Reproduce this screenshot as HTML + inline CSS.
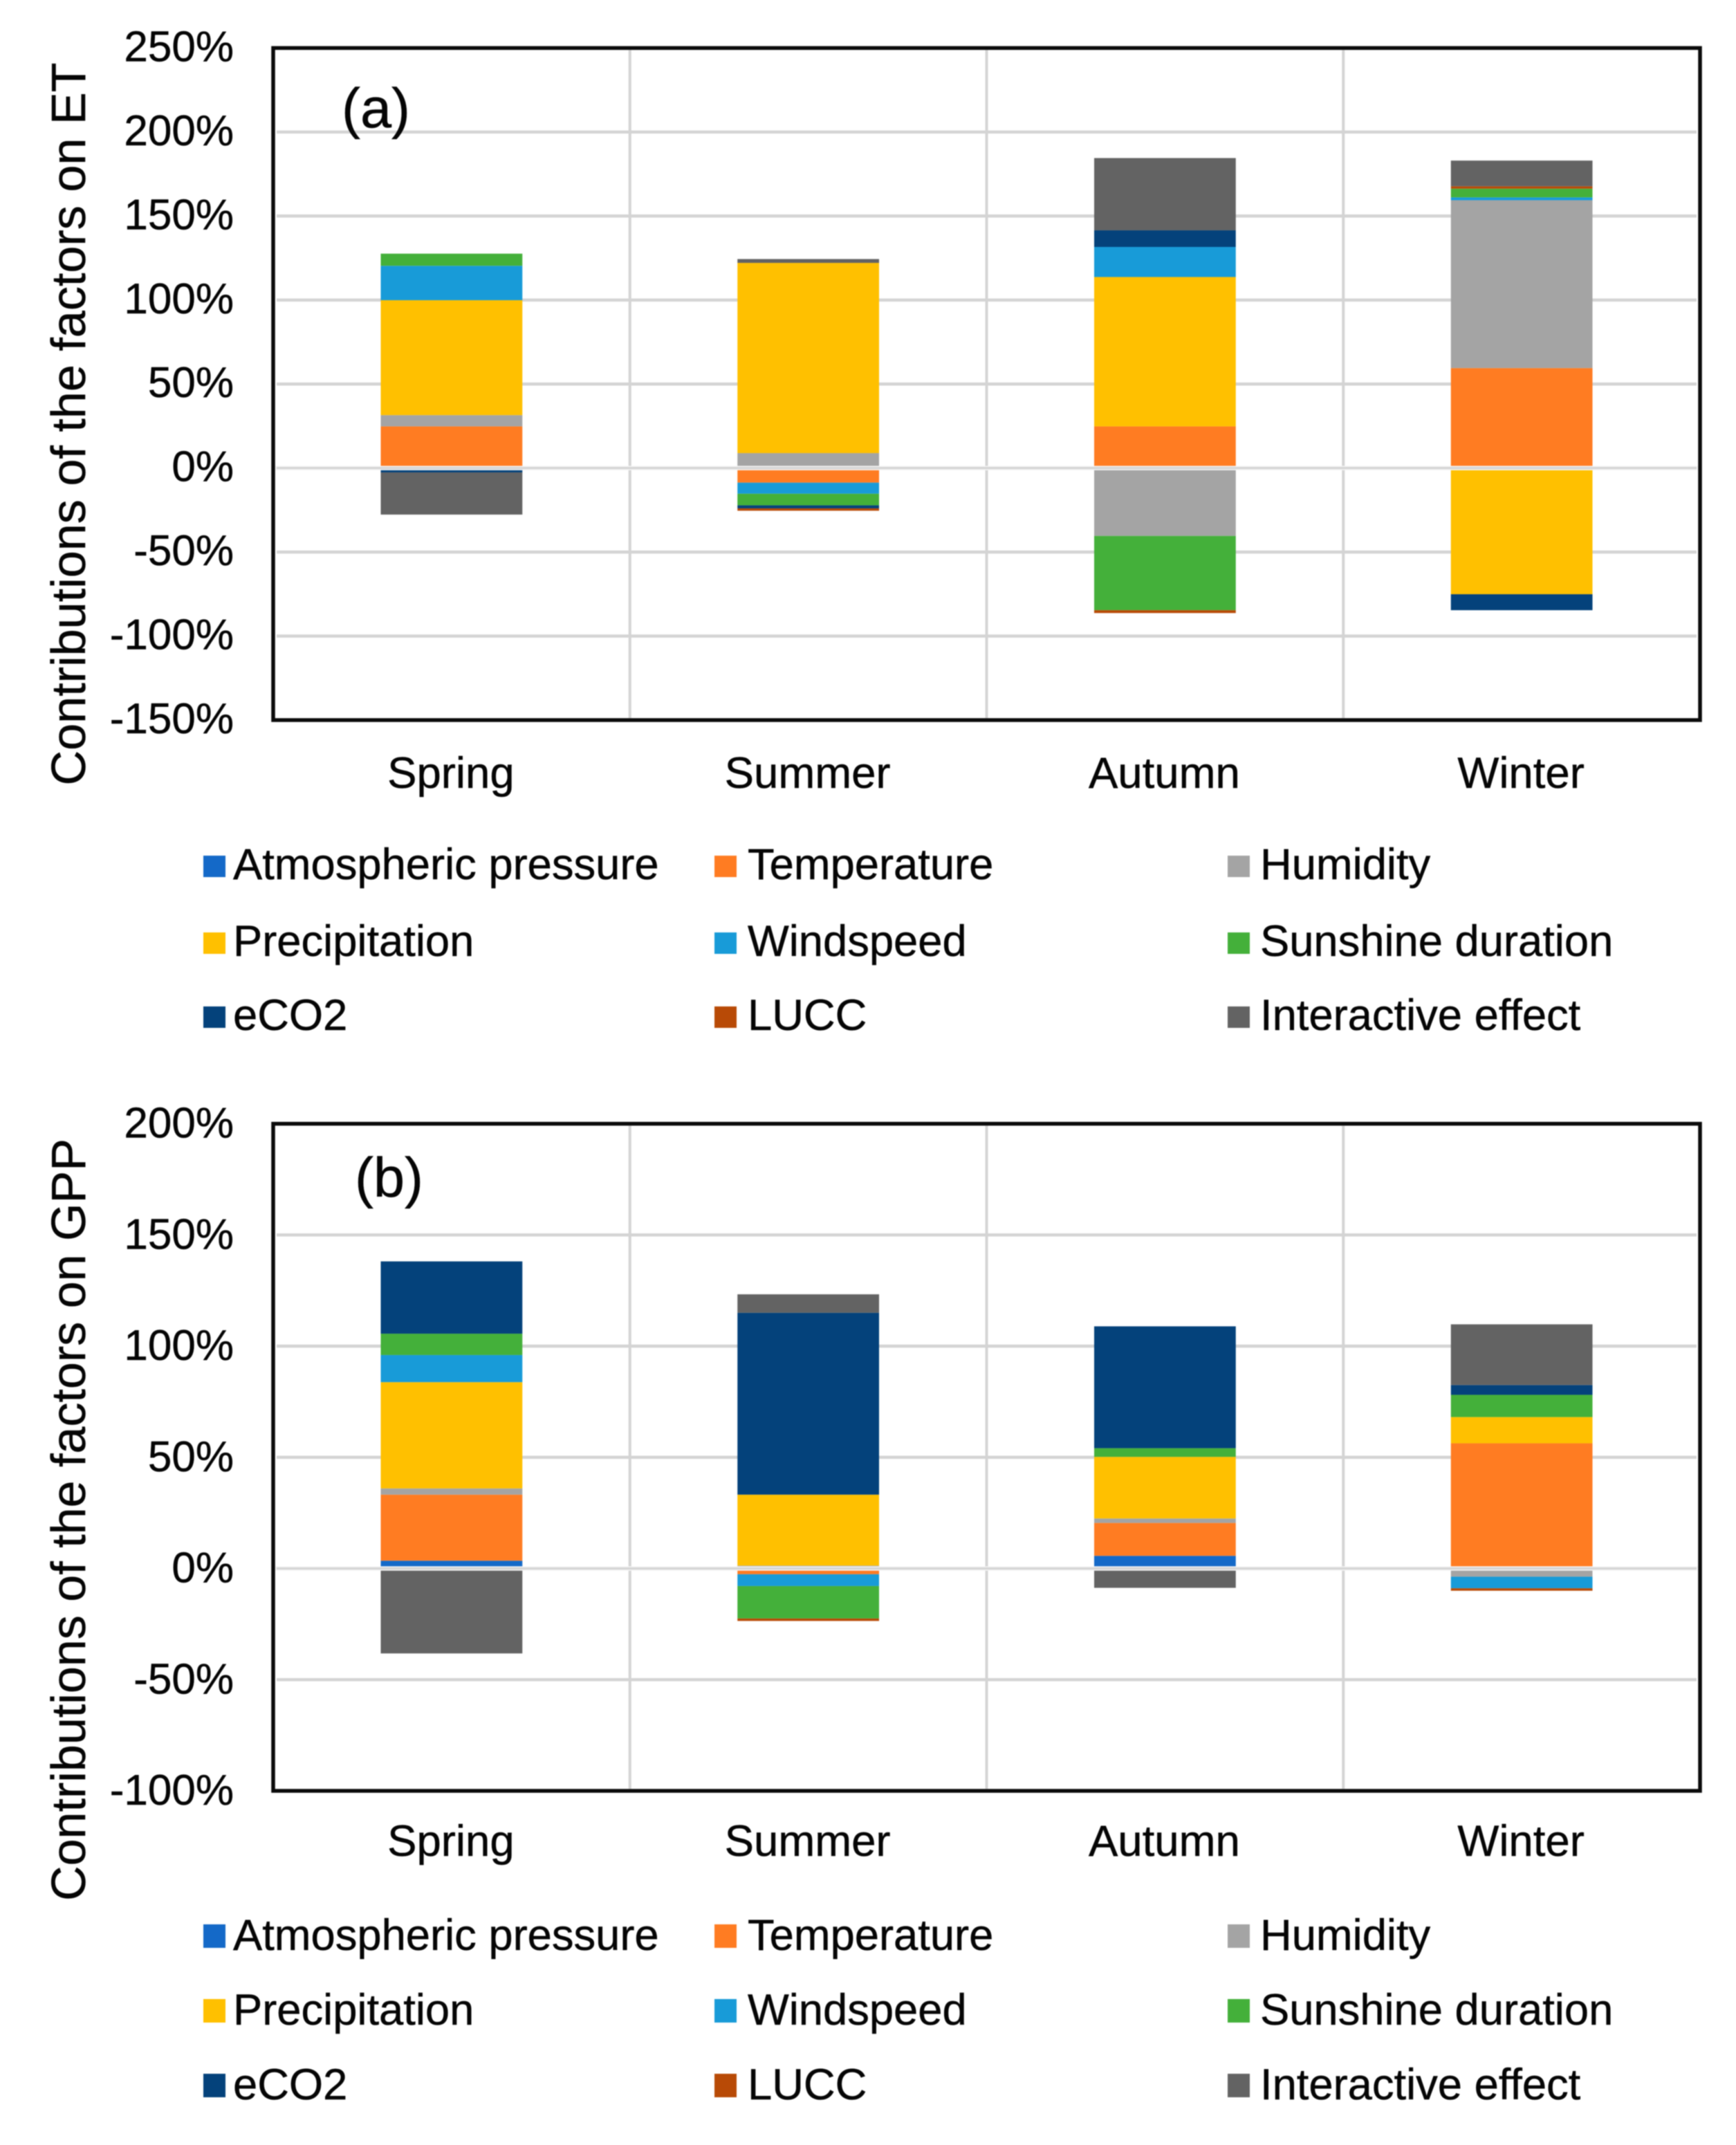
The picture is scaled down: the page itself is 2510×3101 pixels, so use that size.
<!DOCTYPE html>
<html lang="en">
<head>
<meta charset="utf-8">
<title>Contributions of the factors on ET and GPP</title>
<style>
html,body{margin:0;padding:0;background:#fff;}
#chart{display:block;width:2510px;height:3101px;filter:blur(0.8px);}
text{font-family:"Liberation Sans",Arial,sans-serif;fill:#050505;stroke:#050505;stroke-width:0.5px;}
.tick-text{font-size:62px;}
.cat-text{font-size:63.5px;}
.legend-text{font-size:63.3px;}
.axis-title{font-size:70px;}
.panel-label{font-size:81px;}
.grid{fill:#d4d4d4;}
.halo{fill:#f4f4f4;}
.frame{fill:none;stroke:#0a0a0a;stroke-width:5.5;}
.s-atmospheric{fill:#1469c8;}
.s-temperature{fill:#ff7c22;}
.s-humidity{fill:#a4a4a4;}
.s-precipitation{fill:#ffc000;}
.s-windspeed{fill:#189bd8;}
.s-sunshine{fill:#44b03a;}
.s-eco2{fill:#04427b;}
.s-lucc{fill:#b84a06;}
.s-interactive{fill:#636363;}
</style>
</head>
<body>
<svg id="chart" xmlns="http://www.w3.org/2000/svg" width="2510" height="3101" viewBox="0 0 2510 3101">
<rect x="0" y="0" width="2510" height="3101" fill="#ffffff"></rect>
</svg>
<script>
// Shared categories and legend
const categories = ['Spring', 'Summer', 'Autumn', 'Winter'];
const seriesKeys = ['atmospheric', 'temperature', 'humidity', 'precipitation', 'windspeed', 'sunshine', 'eco2', 'lucc', 'interactive'];
const seriesLabels = ['Atmospheric pressure', 'Temperature', 'Humidity', 'Precipitation', 'Windspeed', 'Sunshine duration', 'eCO2', 'LUCC', 'Interactive effect'];

// Panel (a): contributions on ET (%), one value per season
const etAtmospheric = [0, 0, 0, 0];
const etTemperature = [24.8, -8.7, 24.8, 59.5];
const etHumidity = [6.7, 8.9, -40.4, 99.9];
const etPrecipitation = [68.4, 113.2, 88.9, -75.1];
const etWindspeed = [20.5, -6.6, 17.9, 1.7];
const etSunshine = [7.2, -6.9, -44.2, 5.2];
const etECO2 = [-2.6, -1.8, 9.9, -9.5];
const etLUCC = [0, -1.4, -1.7, 1.4];
const etInteractive = [-25.1, 2.3, 43.0, 15.3];
const etTickValues = [250, 200, 150, 100, 50, 0, -50, -100, -150];
const etTickLabels = ['250%', '200%', '150%', '100%', '50%', '0%', '-50%', '-100%', '-150%'];

// Panel (b): contributions on GPP (%), one value per season
const gppAtmospheric = [3.5, 0, 5.7, 0];
const gppTemperature = [29.7, -2.6, 14.8, 56.3];
const gppHumidity = [2.8, 1.3, 2.0, -3.7];
const gppPrecipitation = [47.8, 31.9, 27.7, 11.8];
const gppWindspeed = [12.2, -5.3, 0, -5.2];
const gppSunshine = [9.6, -14.6, 3.9, 10.0];
const gppECO2 = [32.5, 81.8, 54.8, 4.4];
const gppLUCC = [0, -1.1, 0, -1.1];
const gppInteractive = [-38.2, 8.3, -8.7, 27.3];
const gppTickValues = [200, 150, 100, 50, 0, -50, -100];
const gppTickLabels = ['200%', '150%', '100%', '50%', '0%', '-50%', '-100%'];

const etSeries = [etAtmospheric, etTemperature, etHumidity, etPrecipitation, etWindspeed, etSunshine, etECO2, etLUCC, etInteractive];
const gppSeries = [gppAtmospheric, gppTemperature, gppHumidity, gppPrecipitation, gppWindspeed, gppSunshine, gppECO2, gppLUCC, gppInteractive];

const SVG_NS = 'http://www.w3.org/2000/svg';
const root = document.getElementById('chart');

function make(parent, tag, attrs, content) {
  const el = document.createElementNS(SVG_NS, tag);
  Object.keys(attrs).forEach(function (k) { el.setAttribute(k, attrs[k]); });
  if (content !== undefined) el.textContent = content;
  parent.appendChild(el);
  return el;
}

function renderPanel(cfg) {
  const box = cfg.box;
  const maxV = cfg.tickValues[0];
  const minV = cfg.tickValues[cfg.tickValues.length - 1];
  const yScale = function (v) { return box.top + (maxV - v) / (maxV - minV) * (box.bottom - box.top); };
  const band = (box.right - box.left) / categories.length;
  const xCenter = function (i) { return box.left + band * (i + 0.5); };
  const barWidth = band * 0.397;

  const g = make(root, 'g', {});
  
  

  // horizontal gridlines
  cfg.tickValues.forEach(function (v) {
    if (v === maxV || v === minV) return;
    const line = make(g, 'rect', { class: 'grid', x: box.left + 5, y: yScale(v) - 2.25, width: box.right - box.left - 10, height: 4.5 });
    
    
  });
  // vertical gridlines between categories
  for (let i = 1; i < categories.length; i++) {
    const line = make(g, 'rect', { class: 'grid', x: box.left + band * i - 2, y: box.top + 3, width: 4, height: box.bottom - box.top - 6 });
    
    
  }

  // stacked bars: positives stack upward, negatives stack downward
  categories.forEach(function (cat, c) {
    let pos = 0;
    let neg = 0;
    seriesKeys.forEach(function (key, s) {
      const v = cfg.series[s][c];
      if (v === 0) return;
      const start = v > 0 ? pos : neg;
      const end = start + v;
      if (v > 0) pos = end; else neg = end;
      const y1 = yScale(Math.max(start, end));
      const y2 = yScale(Math.min(start, end));
      const seg = make(g, 'rect', { class: 's-' + key, x: xCenter(c) - barWidth / 2, y: y1, width: barWidth, height: y2 - y1 });
      
      
    });
  });

  // zero axis line with pale halo crossing the bars
  const y0 = yScale(0);
  const halo = make(g, 'rect', { class: 'halo', x: box.left + 3, y: y0 - 3.2, width: box.right - box.left - 6, height: 6.4 });
  
  
  const zero = make(g, 'rect', { class: 'grid', x: box.left + 5, y: y0 - 1.6, width: box.right - box.left - 10, height: 3.2 });
  
  

  // plot frame
  const frame = make(g, 'rect', { class: 'frame', x: box.left, y: box.top, width: box.right - box.left, height: box.bottom - box.top });
  
  

  // y tick labels
  cfg.tickValues.forEach(function (v, i) {
    const t = make(g, 'text', { class: 'tick-text', x: 338, y: yScale(v) + cfg.tickShift, 'text-anchor': 'end' }, cfg.tickLabels[i]);
    
    
  });

  // category labels
  categories.forEach(function (cat, c) {
    const t = make(g, 'text', { class: 'cat-text', x: xCenter(c) - 1, y: cfg.catBaseline, 'text-anchor': 'middle' }, cat);
    
    
  });

  // axis title
  const title = make(g, 'text', {
    class: 'axis-title', 'text-anchor': 'middle',
    transform: 'translate(123 ' + cfg.titleCenter + ') rotate(-90)',
    textLength: cfg.titleLength, lengthAdjust: 'spacingAndGlyphs', x: 0, y: 0
  }, cfg.title);
  
  

  // panel letter
  const letter = make(g, 'text', { class: 'panel-label', x: cfg.labelX, y: cfg.labelY }, cfg.label);
  
  

  // legend
  const legend = make(g, 'g', {});
  
  
  const swatchX = [294, 1033, 1775];
  const textX = [337, 1081, 1822];
  seriesKeys.forEach(function (key, s) {
    const col = s % 3;
    const row = Math.floor(s / 3);
    const base = cfg.legendBaselines[row];
    const entry = make(legend, 'g', {});
    
    
    const swatch = make(entry, 'rect', { class: 's-' + key, x: swatchX[col], y: base - cfg.swatchTop, width: 32, height: cfg.swatchHeight });
    
    
    const label = make(entry, 'text', { class: 'legend-text', x: textX[col], y: base }, seriesLabels[s]);
    
    
  });
}

renderPanel({
  id: 'et', label: '(a)', labelX: 494, labelY: 184,
  title: 'Contributions  of the factors on ET', titleCenter: 613, titleLength: 1045,
  box: { left: 395, right: 2458, top: 69.4, bottom: 1041 },
  series: etSeries, tickValues: etTickValues, tickLabels: etTickLabels, tickShift: 19,
  catBaseline: 1139, legendBaselines: [1271, 1382, 1489], swatchTop: 34, swatchHeight: 31
});

renderPanel({
  id: 'gpp', label: '(b)', labelX: 513, labelY: 1730,
  title: 'Contributions  of the factors on GPP', titleCenter: 2197, titleLength: 1102,
  box: { left: 395, right: 2458, top: 1624.6, bottom: 2589 },
  series: gppSeries, tickValues: gppTickValues, tickLabels: gppTickLabels, tickShift: 20,
  catBaseline: 2683, legendBaselines: [2819, 2927, 3035], swatchTop: 37, swatchHeight: 34
});
</script>
</body>
</html>
